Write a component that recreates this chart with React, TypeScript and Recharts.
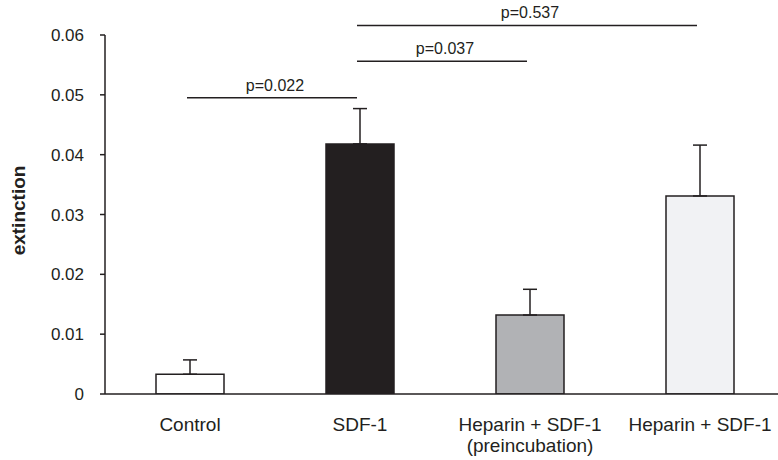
import React from 'react';
import { BarChart, Bar, XAxis, YAxis, Cell, ErrorBar, ReferenceLine } from 'recharts';

// ---- data ----
const categories = ['Control', 'SDF-1', 'Heparin + SDF-1\n(preincubation)', 'Heparin + SDF-1'];
const means = [0.0033, 0.0418, 0.0132, 0.0331];
const upperErrors = [0.0024, 0.0059, 0.0043, 0.0085];
const yTicks = [0, 0.01, 0.02, 0.03, 0.04, 0.05, 0.06];
const sigFrom = [0, 1, 1];
const sigTo = [1, 2, 3];
const sigY = [0.0495, 0.0556, 0.0616];
const sigLabels = ['p=0.022', 'p=0.037', 'p=0.537'];

// ---- styles ----
const INK = '#231f20';
const FONT = '"Liberation Sans", Arial, Helvetica, sans-serif';
const BAR_FILLS = ['#ffffff', '#231f20', '#b1b2b5', '#f1f2f4'];

const data = categories.map((name, i) => ({
  name,
  value: means[i],
  err: [0, upperErrors[i]],
}));

const XTick = (props: any) => {
  const { x, y, payload } = props;
  const lines = String(payload.value).split('\n');
  return (
    <g>
      <text x={x} y={y} textAnchor="middle" fill={INK} fontSize={19} fontFamily={FONT}>
        {lines.map((l, i) => (
          <tspan key={i} x={x} dy={i === 0 ? 37 : 21}>
            {l}
          </tspan>
        ))}
      </text>
    </g>
  );
};

const YLabel = (props: any) => {
  const vb = props.viewBox || { x: 0, y: 0, width: 0, height: 0 };
  const cx = vb.x + 25;
  const cy = vb.y + vb.height / 2 - 4;
  return (
    <text
      x={cx}
      y={cy}
      transform={`rotate(-90, ${cx}, ${cy})`}
      textAnchor="middle"
      fill={INK}
      fontSize={19}
      fontWeight="bold"
      fontFamily={FONT}
    >
      extinction
    </text>
  );
};

const SigShape = (props: any) => {
  const { x1, y1, x2, y2 } = props;
  return <line x1={x1 - 3} y1={y1} x2={x2 - 3} y2={y2} stroke={INK} strokeWidth={1.5} />;
};

export default function App() {
  return (
    <div
      style={{
        position: 'absolute',
        left: 0,
        top: 0,
        width: 778,
        height: 460,
        overflow: 'hidden',
        background: '#ffffff',
      }}
    >
      <BarChart
        width={790}
        height={460}
        data={data}
        margin={{ top: 35, right: 5, bottom: 6, left: 0 }}
        barSize={68}
      >
        <XAxis
          dataKey="name"
          axisLine={{ stroke: INK, strokeWidth: 1.5 }}
          tickLine={false}
          tickSize={0}
          tickMargin={0}
          height={60}
          interval={0}
          tick={<XTick />}
        />
        <YAxis
          width={105}
          domain={[0, 0.06]}
          ticks={yTicks}
          allowDataOverflow
          axisLine={{ stroke: INK, strokeWidth: 1.5 }}
          tickLine={{ stroke: INK, strokeWidth: 1.5 }}
          tickSize={5}
          tickMargin={16}
          tick={{ fill: INK, fontSize: 17, fontFamily: FONT }}
          tickFormatter={(v: number) => (v === 0 ? '0' : v.toFixed(2))}
          label={{ value: 'extinction', content: <YLabel /> }}
        />
        <Bar dataKey="value" stroke={INK} strokeWidth={1.5} isAnimationActive={false}>
          {data.map((d, i) => (
            <Cell key={i} fill={BAR_FILLS[i]} />
          ))}
          <ErrorBar dataKey="err" direction="y" width={7} stroke={INK} strokeWidth={1.5} />
        </Bar>
        {sigLabels.map((lab, i) => (
          <ReferenceLine
            key={lab}
            ifOverflow="visible"
            segment={[
              { x: categories[sigFrom[i]], y: sigY[i] },
              { x: categories[sigTo[i]], y: sigY[i] },
            ]}
            stroke={INK}
            strokeWidth={1.5}
            shape={<SigShape />}
            label={{
              value: lab,
              position: 'top',
              offset: 7,
              fill: INK,
              fontSize: 16,
              fontFamily: FONT,
            }}
          />
        ))}
      </BarChart>
    </div>
  );
}
